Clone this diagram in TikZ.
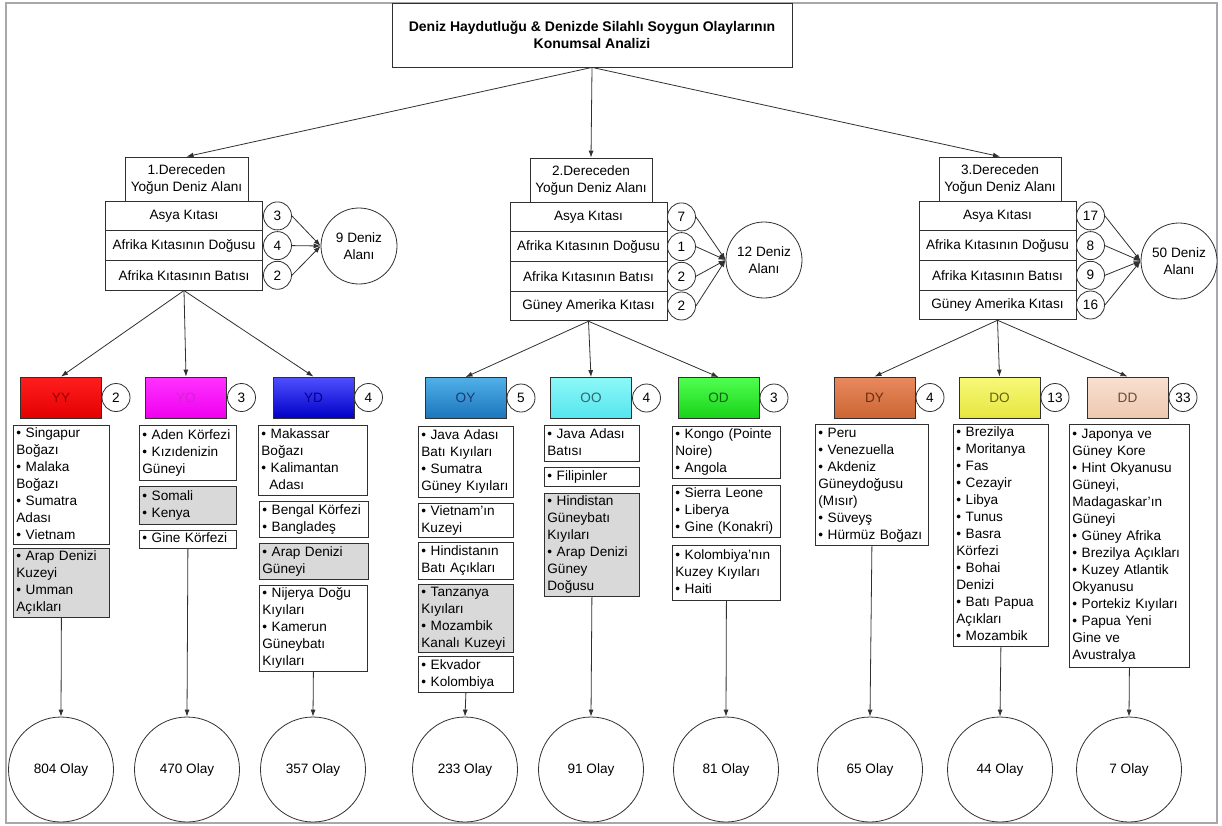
\documentclass[tikz,border=0pt]{standalone}
\usepackage{fontspec}
\setmainfont{Liberation Sans}
\usetikzlibrary{arrows.meta}
\definecolor{boxline}{HTML}{303030}
\definecolor{framecol}{HTML}{A8A8A8}
\definecolor{grayfill}{HTML}{D9D9D9}
\newcommand\fs{\fontsize{13.6}{17}\selectfont}
\newcommand\lst[1]{\begin{tabular}{@{}l@{}}#1\end{tabular}}
\tikzset{
  bx/.style={draw=boxline, line width=0.8pt, fill=white, inner sep=0pt, font=\fs, align=center},
  numc/.style={circle, draw=boxline, line width=0.8pt, fill=white, minimum size=28pt, inner sep=0pt, font=\fs},
  bigc/.style={circle, draw=boxline, line width=0.8pt, fill=white, minimum size=76pt, inner sep=0pt, font=\fs, align=center},
  olayc/.style={circle, draw=boxline, line width=0.8pt, fill=white, minimum size=105pt, inner sep=0pt, font=\fs},
  rowbox/.style={bx, minimum width=157pt, minimum height=29.7pt},
  cbox/.style={draw=boxline, line width=0.8pt, minimum width=81pt, minimum height=41pt, inner sep=0pt, font=\fs},
  lbox/.style={draw=boxline, line width=0.8pt, fill=white, anchor=north west, inner xsep=3pt, inner ysep=0pt, align=left, font=\fs},
  gbox/.style={lbox, fill=grayfill},
  arr/.style={draw=boxline, line width=0.8pt, -{Latex[length=7pt,width=5pt]}},
}
\newcommand\lb[6]{\node[#1, minimum width=#4pt, minimum height=#5pt, text width=#4pt-6pt] (#2) at #3 {\lst{#6}};}
\begin{document}
\begin{tikzpicture}[x=1pt,y=-1pt]
\useasboundingbox (0,0) rectangle (1222,825);
\draw[framecol, line width=2pt] (6,3) rectangle (1217,823);

% title
\node[bx, minimum width=400pt, minimum height=64pt, font=\fontsize{14}{16.5}\selectfont\bfseries] (title) at (592,35)
  {Deniz Haydutluğu \& Denizde Silahlı Soygun Olaylarının\\Konumsal Analizi};

% headers
\node[bx, minimum width=123pt, minimum height=44pt] (h1) at (186.5,179) {1.Dereceden\\Yoğun Deniz Alanı};
\node[bx, minimum width=122pt, minimum height=44pt] (h2) at (591,180) {2.Dereceden\\Yoğun Deniz Alanı};
\node[bx, minimum width=122pt, minimum height=44pt] (h3) at (1000,179) {3.Dereceden\\Yoğun Deniz Alanı};
\draw[arr] (title.south) -- (h1.north);
\draw[arr] (title.south) -- (h2.north);
\draw[arr] (title.south) -- (h3.north);

% group 1
\node[rowbox] (g1a) at (184,215.9) {Asya Kıtası};
\node[rowbox] (g1b) at (184,245.6) {Afrika Kıtasının Doğusu};
\node[rowbox] (g1c) at (184,275.3) {Afrika Kıtasının Batısı};
\node[numc] (n1a) at (277.5,215.9) {3};
\node[numc] (n1b) at (277.5,245.6) {4};
\node[numc] (n1c) at (277.5,275.3) {2};
\node[bigc] (d1) at (359,246) {9 Deniz\\Alanı};
\foreach \n in {n1a,n1b,n1c} \draw[arr] (\n.east) -- (d1.west);

% group 2
\node[rowbox] (g2a) at (588.5,216.9) {Asya Kıtası};
\node[rowbox] (g2b) at (588.5,246.6) {Afrika Kıtasının Doğusu};
\node[rowbox] (g2c) at (588.5,276.3) {Afrika Kıtasının Batısı};
\node[rowbox] (g2d) at (588.5,306.0) {Güney Amerika Kıtası};
\node[numc] (n2a) at (681.5,216.9) {7};
\node[numc] (n2b) at (681.5,246.6) {1};
\node[numc] (n2c) at (681.5,276.3) {2};
\node[numc] (n2d) at (681.5,306.0) {2};
\node[bigc] (d2) at (764,260) {12 Deniz\\Alanı};
\foreach \n in {n2a,n2b,n2c,n2d} \draw[arr] (\n.east) -- (d2.west);

% group 3
\node[rowbox] (g3a) at (997.5,215.9) {Asya Kıtası};
\node[rowbox] (g3b) at (997.5,245.6) {Afrika Kıtasının Doğusu};
\node[rowbox] (g3c) at (997.5,275.3) {Afrika Kıtasının Batısı};
\node[rowbox] (g3d) at (997.5,305.0) {Güney Amerika Kıtası};
\node[numc] (n3a) at (1090.5,215.9) {17};
\node[numc] (n3b) at (1090.5,245.6) {8};
\node[numc] (n3c) at (1090.5,275.3) {9};
\node[numc] (n3d) at (1090.5,305.0) {16};
\node[bigc] (d3) at (1179,261) {50 Deniz\\Alanı};
\foreach \n in {n3a,n3b,n3c,n3d} \draw[arr] (\n.east) -- (d3.west);

% coloured boxes
\node[cbox, top color={rgb,255:red,255;green,30;blue,30}, bottom color={rgb,255:red,228;green,0;blue,0}, text={rgb,255:red,150;green,0;blue,0}] (YY) at (61,397.5) {YY};
\node[cbox, top color={rgb,255:red,255;green,50;blue,255}, bottom color={rgb,255:red,240;green,0;blue,240}, text={rgb,255:red,205;green,40;blue,205}] (YO) at (186,397.5) {YO};
\node[cbox, top color={rgb,255:red,80;green,80;blue,255}, bottom color={rgb,255:red,0;green,0;blue,200}, text={rgb,255:red,0;green,0;blue,140}] (YD) at (313.5,397.5) {YD};
\node[cbox, top color={rgb,255:red,80;green,176;blue,232}, bottom color={rgb,255:red,28;green,117;blue,188}, text={rgb,255:red,26;green,60;blue,110}] (OY) at (465.5,398) {OY};
\node[cbox, top color={rgb,255:red,140;green,248;blue,248}, bottom color={rgb,255:red,85;green,229;blue,238}, text={rgb,255:red,45;green,105;blue,110}] (OO) at (591,398) {OO};
\node[cbox, top color={rgb,255:red,80;green,255;blue,80}, bottom color={rgb,255:red,25;green,210;blue,25}, text={rgb,255:red,15;green,100;blue,15}] (OD) at (718.5,398) {OD};
\node[cbox, top color={rgb,255:red,232;green,137;blue,94}, bottom color={rgb,255:red,204;green,102;blue,51}, text={rgb,255:red,105;green,45;blue,18}] (DY) at (874.5,397.5) {DY};
\node[cbox, top color={rgb,255:red,248;green,248;blue,122}, bottom color={rgb,255:red,230;green,230;blue,64}, text={rgb,255:red,100;green,100;blue,15}] (DO) at (999.5,397.5) {DO};
\node[cbox, top color={rgb,255:red,248;green,224;blue,208}, bottom color={rgb,255:red,238;green,200;blue,176}, text={rgb,255:red,100;green,78;blue,62}] (DD) at (1127.5,397.5) {DD};

\node[numc] (cYY) at (116,397.5) {2};
\node[numc] (cYO) at (241.5,397.5) {3};
\node[numc] (cYD) at (368.5,397.5) {4};
\node[numc] (cOY) at (521,398) {5};
\node[numc] (cOO) at (646.5,398) {4};
\node[numc] (cOD) at (774,398) {3};
\node[numc] (cDY) at (930,397.5) {4};
\node[numc] (cDO) at (1055,397.5) {13};
\node[numc] (cDD) at (1183,397.5) {33};

\draw[arr] (g1c.south) -- (YY.north);
\draw[arr] (g1c.south) -- (YO.north);
\draw[arr] (g1c.south) -- (YD.north);
\draw[arr] (g2d.south) -- (OY.north);
\draw[arr] (g2d.south) -- (OO.north);
\draw[arr] (g2d.south) -- (OD.north);
\draw[arr] (g3d.south) -- (DY.north);
\draw[arr] (g3d.south) -- (DO.north);
\draw[arr] (g3d.south) -- (DD.north);

% lists YY
\lb{lbox}{yy1}{(13,425)}{96}{118}{• Singapur\\Boğazı\\• Malaka\\Boğazı\\• Sumatra\\Adası\\• Vietnam}
\lb{gbox}{yy2}{(13,548)}{96}{69}{• Arap Denizi\\Kuzeyi\\• Umman\\Açıkları}
% YO
\lb{lbox}{yo1}{(139,425)}{97}{55}{• Aden Körfezi\\• Kızıdenizin\\Güneyi}
\lb{gbox}{yo2}{(139,486)}{97}{38}{• Somali\\• Kenya}
\lb{lbox}{yo3}{(139,530)}{97}{17.5}{• Gine Körfezi}
% YD
\lb{lbox}{yd1}{(258,425)}{109}{70}{• Makassar\\Boğazı\\• Kalimantan\\\hspace*{8pt}Adası}
\lb{lbox}{yd2}{(259,501)}{109}{36}{• Bengal Körfezi\\• Bangladeş}
\lb{gbox}{yd3}{(259,543)}{109}{36}{• Arap Denizi\\Güneyi}
\lb{lbox}{yd4}{(259,585)}{108}{86}{• Nijerya Doğu\\Kıyıları\\• Kamerun\\Güneybatı\\Kıyıları}
% OY
\lb{lbox}{oy1}{(418,426)}{95}{71}{• Java Adası\\Batı Kıyıları\\• Sumatra\\Güney Kıyıları}
\lb{lbox}{oy2}{(418,503)}{95}{33}{• Vietnam'ın\\Kuzeyi}
\lb{lbox}{oy3}{(418,542)}{95}{37}{• Hindistanın\\Batı Açıkları}
\lb{gbox}{oy4}{(418,584)}{95}{67}{• Tanzanya\\Kıyıları\\• Mozambik\\Kanalı Kuzeyi}
\lb{lbox}{oy5}{(418,656)}{95}{36}{• Ekvador\\• Kolombiya}
% OO
\lb{lbox}{oo1}{(544,425)}{95}{36}{• Java Adası\\Batısı}
\lb{lbox}{oo2}{(544,467)}{95}{19}{• Filipinler}
\lb{gbox}{oo3}{(544,493)}{95}{103}{• Hindistan\\Güneybatı\\Kıyıları\\• Arap Denizi\\Güney\\Doğusu}
% OD
\lb{lbox}{od1}{(672,426)}{108}{52}{• Kongo (Pointe\\Noire)\\• Angola}
\lb{lbox}{od2}{(672,485)}{108}{52}{• Sierra Leone\\• Liberya\\• Gine (Konakri)}
\lb{lbox}{od3}{(672,545)}{108}{55}{• Kolombiya'nın\\Kuzey Kıyıları\\• Haiti}
% DY
\lb{lbox}{dy1}{(815,424)}{113}{121}{• Peru\\• Venezuella\\• Akdeniz\\Güneydoğusu\\(Mısır)\\• Süveyş\\• Hürmüz Boğazı}
% DO
\lb{lbox}{do1}{(953,424)}{95}{222}{• Brezilya\\• Moritanya\\• Fas\\• Cezayir\\• Libya\\• Tunus\\• Basra\\Körfezi\\• Bohai\\Denizi\\• Batı Papua\\Açıkları\\• Mozambik}
% DD
\lb{lbox}{dd1}{(1069,424)}{120}{243}{• Japonya ve\\Güney Kore\\• Hint Okyanusu\\Güneyi,\\Madagaskar'ın\\Güneyi\\• Güney Afrika\\• Brezilya Açıkları\\• Kuzey Atlantik\\Okyanusu\\• Portekiz Kıyıları\\• Papua Yeni\\Gine ve\\Avustralya}

% result circles
\node[olayc] (r1) at (61,769.5) {804 Olay};
\node[olayc] (r2) at (187,769.5) {470 Olay};
\node[olayc] (r3) at (313,769.5) {357 Olay};
\node[olayc] (r4) at (465,769.5) {233 Olay};
\node[olayc] (r5) at (591,769.5) {91 Olay};
\node[olayc] (r6) at (726,769.5) {81 Olay};
\node[olayc] (r7) at (870,769.5) {65 Olay};
\node[olayc] (r8) at (1000,769.5) {44 Olay};
\node[olayc] (r9) at (1129,769.5) {7 Olay};
\draw[arr] (yy2.south) -- (r1.north);
\draw[arr] (yo3.south) -- (r2.north);
\draw[arr] (yd4.south) -- (r3.north);
\draw[arr] (oy5.south) -- (r4.north);
\draw[arr] (oo3.south) -- (r5.north);
\draw[arr] (od3.south) -- (r6.north);
\draw[arr] (dy1.south) -- (r7.north);
\draw[arr] (do1.south) -- (r8.north);
\draw[arr] (dd1.south) -- (r9.north);
\end{tikzpicture}
\end{document}
